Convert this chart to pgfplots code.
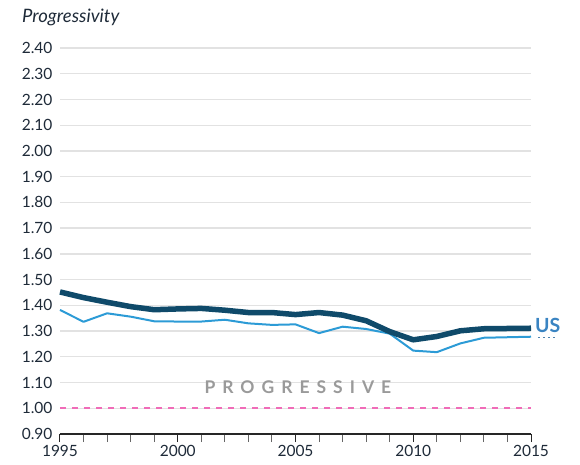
\documentclass[border=0pt]{standalone}
\usepackage{fontspec}
\setmainfont{Lato}
\usepackage{pgfplots}
\pgfplotsset{compat=1.18}
\usetikzlibrary{calc}

\definecolor{usdark}{HTML}{0F4A6A}
\definecolor{uslight}{HTML}{2C9BD6}
\definecolor{uslabel}{HTML}{3A84C2}
\definecolor{pinkline}{HTML}{F06CB8}
\definecolor{gridgray}{HTML}{E2E2E2}
\definecolor{ticktext}{HTML}{1E2A38}
\definecolor{progray}{HTML}{9A9A9A}

\begin{document}
\begin{tikzpicture}
\begin{axis}[
  scale only axis,
  width=471pt, height=386pt,
  xmin=1995, xmax=2015,
  ymin=0.9, ymax=2.4,
  axis x line=bottom,
  axis y line=left,
  y axis line style={draw=none},
  x axis line style={black!85, line width=1.4pt, -},
  xtick={1995,2000,2005,2010,2015},
  minor xtick={1996,1997,1998,1999,2001,2002,2003,2004,2006,2007,2008,2009,2011,2012,2013,2014},
  xtick align=outside,
  major tick length=8pt,
  minor tick length=8pt,
  xtick style={black!85, line width=1pt},
  minor x tick style={black!60, line width=1pt},
  ytick={0.9,1.0,1.1,1.2,1.3,1.4,1.5,1.6,1.7,1.8,1.9,2.0,2.1,2.2,2.3,2.4},
  ytick style={draw=none},
  ymajorgrids,
  grid style={gridgray, line width=1.3pt},
  /pgf/number format/assume math mode=true,
  xticklabel={\pgfmathprintnumber[1000 sep={}]{\tick}},
  yticklabel={\pgfmathprintnumber[fixed, fixed zerofill, precision=2]{\tick}},
  tick label style={font=\fontsize{15.5}{18}\selectfont, text=ticktext},
  clip=false,
]
% line at 1.00
\addplot[pinkline, line width=2pt, dash pattern=on 6pt off 6pt] coordinates {(1995,1.00) (2015,1.00)};

% thin light series
\addplot[uslight, line width=2pt, line join=round] coordinates {
  (1995,1.382) (1996,1.336) (1997,1.369) (1998,1.356) (1999,1.338)
  (2000,1.337) (2001,1.337) (2002,1.344) (2003,1.330) (2004,1.324)
  (2005,1.326) (2006,1.292) (2007,1.317) (2008,1.308) (2009,1.290)
  (2010,1.224) (2011,1.218) (2012,1.252) (2013,1.274) (2014,1.276)
  (2015,1.278)
};

% thick US series
\addplot[usdark, line width=5.5pt, line join=round] coordinates {
  (1995,1.452) (1996,1.430) (1997,1.412) (1998,1.395) (1999,1.383)
  (2000,1.386) (2001,1.388) (2002,1.381) (2003,1.372) (2004,1.372)
  (2005,1.364) (2006,1.372) (2007,1.362) (2008,1.340) (2009,1.298)
  (2010,1.266) (2011,1.279) (2012,1.301) (2013,1.309) (2014,1.310)
  (2015,1.311)
};

\node[text=progray, font=\fontsize{17.5}{20}\selectfont\bfseries\addfontfeature{LetterSpace=40}] at (axis cs:2005.1,1.082) {PROGRESSIVE};
\node[anchor=west, text=uslabel, font=\fontsize{19.5}{22}\selectfont\bfseries, inner sep=0pt] at (axis cs:2015.17,1.320) {US};
\draw[uslabel!70!gray, line width=1pt, dash pattern=on 2pt off 3pt] (axis cs:2015.3,1.276) -- (axis cs:2016.1,1.276);
\end{axis}
\node[anchor=west, inner sep=0pt, font=\fontsize{18.5}{21}\selectfont\itshape, text=ticktext] at ($(current axis.north west)+(-38pt,31pt)$) {Progressivity};
\path ($(current axis.south west)+(-60pt,-31pt)$) rectangle ($(current axis.north east)+(49pt,48pt)$);
\end{tikzpicture}
\end{document}
